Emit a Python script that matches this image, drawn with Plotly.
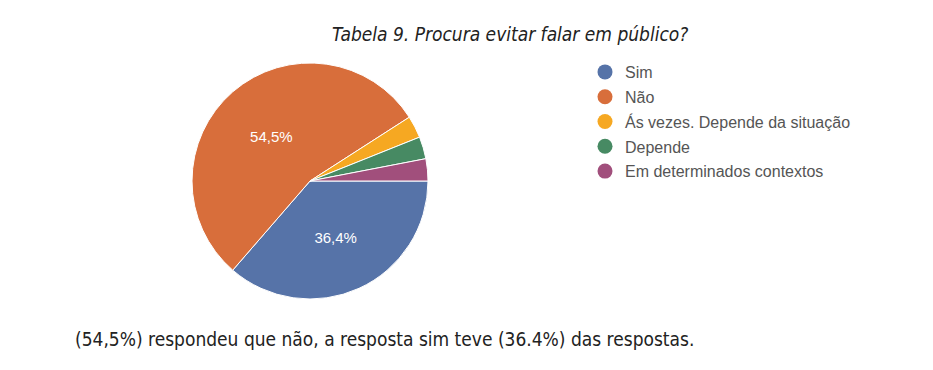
import plotly.graph_objects as go

categories = ["Sim", "Não", "Ás vezes. Depende da situação", "Depende", "Em determinados contextos"]
values = [12, 18, 1, 1, 1]
slice_labels = ["36,4%", "54,5%", "", "", ""]
colors = ["#5673a8", "#d86e3b", "#f6a822", "#478a63", "#a14f7c"]
title_text = "Tabela 9. Procura evitar falar em público?"
caption_text = "(54,5%) respondeu que não, a resposta sim teve (36.4%) das respostas."

W, H = 933, 370
cx, cy, r = 302, 173, 118

fig = go.Figure()
fig.add_trace(go.Pie(
    labels=categories, values=values, text=slice_labels,
    textinfo="text", textposition="inside", insidetextorientation="horizontal",
    textfont=dict(color="white", size=15, family="Liberation Sans, Arial"),
    marker=dict(colors=colors, line=dict(color="white", width=1)),
    sort=False, direction="clockwise", rotation=90,
    showlegend=False, hoverinfo="skip",
    domain=dict(x=[(cx - r) / W, (cx + r) / W], y=[(H - cy - r) / H, (H - cy + r) / H]),
))

for i, (name, col) in enumerate(zip(categories, colors)):
    fig.add_trace(go.Scatter(
        x=[None], y=[None], mode="markers", name=name,
        marker=dict(color=col, size=15, symbol="circle"),
        legendgroup=f"g{i}", showlegend=True, hoverinfo="skip",
    ))

fig.update_layout(
    width=W, height=H,
    margin=dict(l=0, r=0, t=0, b=0),
    paper_bgcolor="white", plot_bgcolor="white",
    xaxis=dict(visible=False), yaxis=dict(visible=False),
    legend=dict(
        x=577 / W, y=1 - 47 / H, xanchor="left", yanchor="top",
        font=dict(family="Liberation Sans, Arial", size=16, color="#555555"),
        tracegroupgap=1, bgcolor="rgba(0,0,0,0)",
    ),
    annotations=[
        dict(text=title_text, x=502 / W, y=1 - 26 / H, xref="paper", yref="paper",
             showarrow=False, xanchor="center", yanchor="middle",
             font=dict(family="DejaVu Sans Condensed, Arial", size=19,
                       color="#222222", style="italic")),
        dict(text=caption_text, x=65 / W, y=1 - 331 / H, xref="paper", yref="paper",
             showarrow=False, xanchor="left", yanchor="middle",
             font=dict(family="DejaVu Sans Condensed, Arial", size=19,
                       color="#222222")),
    ],
)

fig.write_html("out.html")
